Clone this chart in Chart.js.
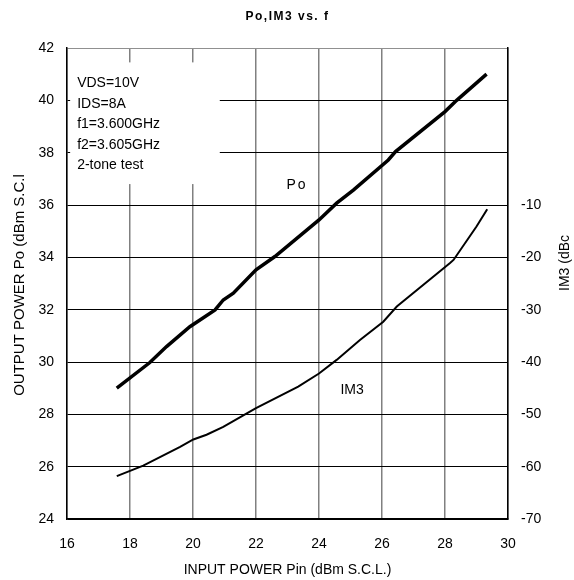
<!DOCTYPE html>
<html>
<head>
<meta charset="utf-8">
<script src="https://cdn.jsdelivr.net/npm/chart.js@4"></script>
<style>
html,body{margin:0;padding:0;background:#fff;}
#wrap{width:574px;height:580px;position:relative;}
</style>
</head>
<body>
<div id="wrap"><canvas id="c" width="574" height="580"></canvas></div>
<script>
// ---- data ----
const chartTitle = "Po,IM3 vs. f";
const xTitle = "INPUT POWER Pin (dBm S.C.L.)";
const yTitle = "OUTPUT POWER Po (dBm S.C.l";
const y2Title = "IM3 (dBc";
const noteLines = ["VDS=10V", "IDS=8A", "f1=3.600GHz", "f2=3.605GHz", "2-tone test"];

const pinPo = [17.58, 18.63, 19.16, 19.9, 20.7, 20.96, 21.28, 22.0, 22.6, 24.0, 24.56, 25.09, 26.2, 26.43, 28.0, 28.37, 29.32];
const po    = [29.0, 29.98, 30.59, 31.35, 31.99, 32.37, 32.63, 33.52, 34.03, 35.43, 36.07, 36.57, 37.72, 38.04, 39.57, 40.0, 41.0];

const pinIm3 = [17.58, 18.42, 19.59, 20.01, 20.43, 20.96, 22.0, 23.34, 24.0, 24.56, 25.3, 26.04, 26.47, 28.16, 28.27, 29.0, 29.34];
const im3    = [-61.8, -59.8, -56.2, -54.8, -53.9, -52.4, -48.8, -44.7, -42.2, -39.6, -35.8, -32.3, -29.4, -21.1, -20.5, -14.1, -10.8];

const xTicks = [16, 18, 20, 22, 24, 26, 28, 30];
const yTicks = [24, 26, 28, 30, 32, 34, 36, 38, 40, 42];
const y2Ticks = [-70, -60, -50, -40, -30, -20, -10];

// label anchors in data units
const poLabel = {x: 23.3, y: 36.76, text: "Po"};
const im3Label = {x: 25.05, y: 28.93, text: "IM3"};

const FONT = "'Liberation Sans', Arial, sans-serif";

const textPlugin = {
  id: 'texts',
  beforeDatasetsDraw(chart) {
    const ctx = chart.ctx;
    const xs = chart.scales.x, ys = chart.scales.y;
    // note box (white background over grid)
    const left = xs.getPixelForValue(16.1), right = xs.getPixelForValue(20.85);
    const top = ys.getPixelForValue(41.45), bottom = ys.getPixelForValue(36.8);
    ctx.save();
    ctx.fillStyle = '#fff';
    ctx.fillRect(left, top, right - left, bottom - top);
    ctx.fillStyle = '#000';
    ctx.font = '14px ' + FONT;
    ctx.textBaseline = 'middle';
    ctx.textAlign = 'left';
    noteLines.forEach((t, i) => {
      ctx.fillText(t, left + 7, top + 21 + i * 20.5);
    });
    ctx.restore();
  },
  afterDraw(chart) {
    const ctx = chart.ctx;
    const ca = chart.chartArea;
    const xs = chart.scales.x, ys = chart.scales.y;
    ctx.save();
    ctx.fillStyle = '#000';
    // title
    ctx.font = 'bold 12px ' + FONT;
    ctx.textAlign = 'center';
    ctx.textBaseline = 'middle';
    try { ctx.letterSpacing = '1.5px'; } catch (e) {}
    ctx.fillText(chartTitle, (ca.left + ca.right) / 2, 17);
    try { ctx.letterSpacing = '0px'; } catch (e) {}
    // x title
    ctx.font = '14px ' + FONT;
    ctx.fillText(xTitle, (ca.left + ca.right) / 2, 570);
    // y title
    ctx.save();
    ctx.translate(20, 285);
    ctx.rotate(-Math.PI / 2);
    ctx.font = '15px ' + FONT;
    ctx.fillText(yTitle, 0, 0);
    ctx.restore();
    // y2 title
    ctx.save();
    ctx.translate(565, 263);
    ctx.rotate(-Math.PI / 2);
    ctx.font = '14px ' + FONT;
    ctx.fillText(y2Title, 0, 0);
    ctx.restore();
    // curve labels
    ctx.font = '14px ' + FONT;
    try { ctx.letterSpacing = '2px'; } catch (e) {}
    ctx.fillText(poLabel.text, xs.getPixelForValue(poLabel.x), ys.getPixelForValue(poLabel.y));
    try { ctx.letterSpacing = '0px'; } catch (e) {}
    ctx.fillText(im3Label.text, xs.getPixelForValue(im3Label.x), ys.getPixelForValue(im3Label.y));
    ctx.restore();
  }
};

new Chart(document.getElementById('c'), {
  type: 'line',
  data: {
    datasets: [
      {
        label: 'Po',
        data: pinPo.map((x, i) => ({x: x, y: po[i]})),
        yAxisID: 'y',
        borderColor: '#000',
        borderWidth: 3.5,
        pointRadius: 0,
        tension: 0,
        fill: false
      },
      {
        label: 'IM3',
        data: pinIm3.map((x, i) => ({x: x, y: im3[i]})),
        yAxisID: 'y2',
        borderColor: '#000',
        borderWidth: 2,
        pointRadius: 0,
        tension: 0,
        fill: false
      }
    ]
  },
  options: {
    responsive: false,
    animation: false,
    devicePixelRatio: 1,
    layout: {padding: {top: 48, left: 0, right: 0, bottom: 0}},
    plugins: {legend: {display: false}, title: {display: false}, tooltip: {enabled: false}},
    scales: {
      x: {
        type: 'linear',
        min: 16, max: 30,
        afterBuildTicks: (a) => { a.ticks = xTicks.map(v => ({value: v})); },
        afterFit: (a) => { a.height = 61; },
        grid: {color: '#808080', lineWidth: 1.5, drawTicks: false},
        border: {color: '#000', width: 1.5},
        ticks: {color: '#000', font: {size: 14, family: FONT}, padding: 17, maxRotation: 0}
      },
      y: {
        type: 'linear',
        position: 'left',
        min: 24, max: 42,
        afterBuildTicks: (a) => { a.ticks = yTicks.map(v => ({value: v})); },
        afterFit: (a) => { a.width = 67; },
        grid: {color: (c) => (c.tick && c.tick.value === 42 ? '#909090' : '#000'), lineWidth: 1, drawTicks: false},
        border: {color: '#000', width: 1.5},
        ticks: {color: '#000', font: {size: 14, family: FONT}, padding: 13}
      },
      y2: {
        type: 'linear',
        position: 'right',
        min: -70, max: 20,
        afterBuildTicks: (a) => { a.ticks = y2Ticks.map(v => ({value: v})); },
        afterFit: (a) => { a.width = 66; },
        grid: {display: false, drawTicks: false},
        border: {color: '#000', width: 1.5},
        ticks: {color: '#000', font: {size: 14, family: FONT}, padding: 13}
      }
    }
  },
  plugins: [textPlugin]
});
</script>
</body>
</html>
